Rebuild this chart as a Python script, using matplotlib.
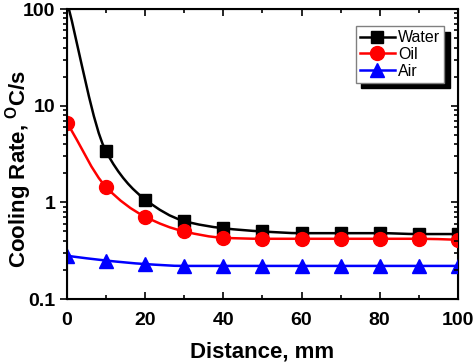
import numpy as np
import matplotlib
matplotlib.use("Agg")
import matplotlib.pyplot as plt
from matplotlib.path import Path
from matplotlib.patches import PathPatch
from matplotlib.lines import Line2D
from matplotlib.ticker import MultipleLocator, LogLocator, NullFormatter

distance = [0, 10, 20, 30, 40, 50, 60, 70, 80, 90, 100]
water = [120, 3.36, 1.07, 0.64, 0.54, 0.50, 0.48, 0.48, 0.48, 0.47, 0.47]
oil = [6.7, 1.44, 0.71, 0.50, 0.43, 0.42, 0.42, 0.42, 0.42, 0.42, 0.41]
air = [0.28, 0.25, 0.23, 0.22, 0.22, 0.22, 0.22, 0.22, 0.22, 0.22, 0.22]

plt.rcParams['font.family'] = ['Liberation Sans', 'DejaVu Sans']
plt.rcParams['mathtext.fontset'] = 'custom'
plt.rcParams['mathtext.rm'] = 'Liberation Sans:bold'
plt.rcParams['mathtext.bf'] = 'Liberation Sans:bold'


def smooth_path(x, y):
    # monotone cubic bezier through the points, in log-y space
    x = np.asarray(x, float)
    ly = np.log10(y)
    h = np.diff(x)
    d = np.diff(ly) / h
    m = np.zeros_like(ly)
    m[0], m[-1] = d[0], d[-1]
    for k in range(1, len(ly) - 1):
        if d[k - 1] * d[k] > 0:
            m[k] = 2.0 / (1.0 / d[k - 1] + 1.0 / d[k])
    verts = [(x[0], y[0])]
    codes = [Path.MOVETO]
    for k in range(len(h)):
        c1 = (x[k] + h[k] / 3, 10 ** (ly[k] + m[k] * h[k] / 3))
        c2 = (x[k + 1] - h[k] / 3, 10 ** (ly[k + 1] - m[k + 1] * h[k] / 3))
        verts += [c1, c2, (x[k + 1], y[k + 1])]
        codes += [Path.CURVE4] * 3
    return Path(verts, codes)


fig = plt.figure(figsize=(4.73, 3.62), dpi=100)
ax = fig.add_axes([0.1416, 0.174, 0.8264, 0.801])

series = [('Water', water, 'black', 's', 8.5),
          ('Oil', oil, 'red', 'o', 10),
          ('Air', air, 'blue', '^', 10)]
handles = []
for name, vals, col, mk, ms in series:
    ax.add_patch(PathPatch(smooth_path(distance, vals), fc='none', ec=col, lw=1.8, zorder=2))
    ax.plot(distance, vals, ls='none', marker=mk, markersize=ms, color=col, zorder=3)
    handles.append(Line2D([], [], color=col, lw=1.8, marker=mk, markersize=ms))

ax.set_yscale('log')
ax.set_xlim(0, 100)
ax.set_ylim(0.1, 100)
ax.xaxis.set_major_locator(MultipleLocator(20))
ax.xaxis.set_minor_locator(MultipleLocator(10))
ax.yaxis.set_minor_locator(LogLocator(base=10, subs=range(2, 10)))
ax.yaxis.set_minor_formatter(NullFormatter())
ax.set_yticks([0.1, 1, 10, 100])
ax.set_yticklabels(['0.1', '1', '10', '100'])

for s in ax.spines.values():
    s.set_linewidth(1.5)

ax.tick_params(axis='x', which='both', direction='in', top=True, width=1.2)
ax.tick_params(axis='x', which='major', length=5, pad=9)
ax.tick_params(axis='x', which='minor', length=3)
ax.tick_params(axis='y', which='both', direction='out', width=1.2)
ax.tick_params(axis='y', which='major', length=5)
ax.tick_params(axis='y', which='minor', length=3)
ax.tick_params(labelsize=14)
for lab in ax.get_xticklabels() + ax.get_yticklabels():
    lab.set_fontweight('bold')

# mirrored inward ticks on the right side
ax2 = ax.twinx()
ax2.set_yscale('log')
ax2.set_ylim(ax.get_ylim())
ax2.tick_params(axis='y', which='both', direction='in', labelright=False, width=1.2)
ax2.tick_params(axis='y', which='major', length=5)
ax2.tick_params(axis='y', which='minor', length=3)

ax.set_xlabel('Distance, mm', fontsize=16, fontweight='bold', labelpad=9)
ax.set_ylabel(r'Cooling Rate, $^\mathregular{O}$C/s', fontsize=16, fontweight='bold')
ax.yaxis.set_label_coords(-0.085, 0.45)

leg = ax.legend(handles, [s[0] for s in series], loc='upper right',
                bbox_to_anchor=(0.965, 0.94), fontsize=11.5,
                fancybox=False, edgecolor='gray', framealpha=1,
                shadow={'color': 'black', 'alpha': 1, 'ox': 4, 'oy': -4},
                handlelength=2.2, handletextpad=0.2, borderpad=0.25,
                labelspacing=0.1, borderaxespad=0)
leg.get_frame().set_linewidth(1.0)

fig.savefig('out.png', dpi=100)
